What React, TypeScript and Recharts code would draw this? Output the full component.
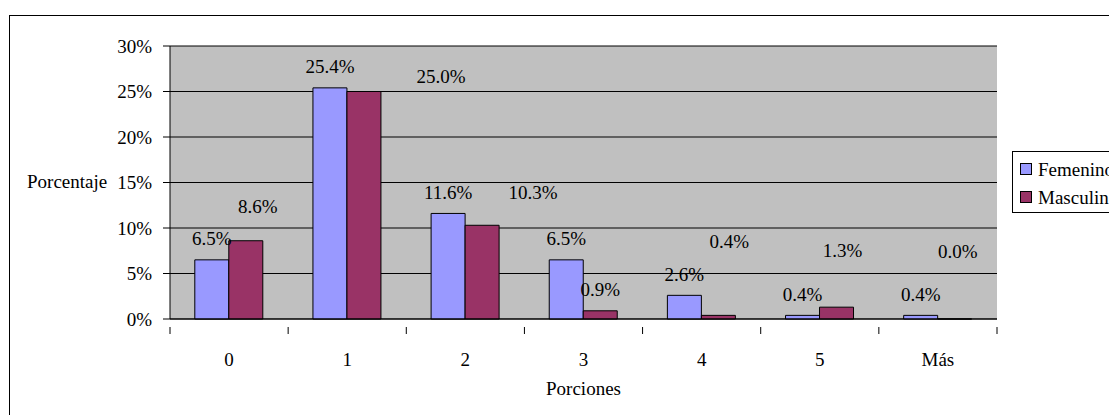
import React from 'react'
import {
  BarChart, Bar, XAxis, YAxis, CartesianGrid, LabelList
} from 'recharts'

const categories = ['0', '1', '2', '3', '4', '5', 'Más']
const femenino = [6.5, 25.4, 11.6, 6.5, 2.6, 0.4, 0.4]
const masculino = [8.6, 25.0, 10.3, 0.9, 0.4, 1.3, 0.0]
const yTicks = [0, 5, 10, 15, 20, 25, 30]
const seriesNames = ['Femenino', 'Masculino']
const seriesColors = ['#9999ff', '#993366']

// label nudges for the Masculino labels (they were dragged around in the original)
const maleLabelNudge = [
  { dx: 12, dy: -13 }, { dx: 77, dy: 6 }, { dx: 51, dy: -12 }, { dx: 0, dy: 0 },
  { dx: 11, dy: -53 }, { dx: 6, dy: -36 }, { dx: 3, dy: -46 },
]

const FONT = '"Liberation Serif", "Times New Roman", serif'
const FS = 19
const BAND = 827 / 7

const data = categories.map((c, i) => ({ name: c, fem: femenino[i], masc: masculino[i] }))

const makeLabel = (nudge?: { dx: number; dy: number }[]) => (props: any) => {
  const { x, y, width, height, value, index } = props
  const n = nudge ? nudge[index] : { dx: 0, dy: 0 }
  const top = Math.min(Number(y), Number(y) + Number(height))
  const cx = Number(x) + Number(width) / 2 + n.dx
  const cy = top - 21 + n.dy
  return (
    <text x={cx} y={cy + 6.5} textAnchor="middle" fontFamily={FONT} fontSize={FS} fill="#000">
      {Number(value).toFixed(1)}%
    </text>
  )
}

const CatTick = (props: any) => {
  const { x, y, payload, index } = props
  const left = x - BAND / 2
  return (
    <g>
      <line x1={left} x2={left} y1={y} y2={y + 7} stroke="#000" />
      {index === categories.length - 1 && (
        <line x1={x + BAND / 2} x2={x + BAND / 2} y1={y} y2={y + 7} stroke="#000" />
      )}
      <text x={x} y={y + 39} textAnchor="middle" fontFamily={FONT} fontSize={FS} fill="#000">
        {payload.value}
      </text>
    </g>
  )
}

function LegendBox() {
  return (
    <div style={{
      position: 'absolute', left: 1004, top: 143,
      border: '1px solid #000', background: '#fff', width: 140, height: 62,
      boxSizing: 'border-box', paddingTop: 3, paddingLeft: 7, fontSize: FS,
    }}>
      {seriesNames.map((name, i) => (
        <div key={name} style={{ display: 'flex', alignItems: 'center', height: 28, lineHeight: 1, whiteSpace: 'nowrap' }}>
          <span style={{
            width: 10, height: 10, border: '1px solid #000', background: seriesColors[i],
            marginRight: 6, flexShrink: 0,
          }} />
          <span>{name}</span>
        </div>
      ))}
    </div>
  )
}

export default function App() {
  return (
    <div style={{ position: 'relative', width: 1109, height: 407, overflow: 'hidden', fontFamily: FONT }}>
      <div style={{
        position: 'absolute', left: 1, top: 7, width: 1200, height: 500,
        border: '1px solid #000', boxSizing: 'border-box',
      }} />
      <div style={{
        position: 'absolute', left: 19, top: 174 - 11, fontSize: FS, lineHeight: '22px', whiteSpace: 'nowrap',
      }}>Porcentaje</div>
      <div style={{
        position: 'absolute', left: 475.5, width: 200, textAlign: 'center', top: 381 - 11,
        fontSize: FS, lineHeight: '22px',
      }}>Porciones</div>
      <div style={{ position: 'absolute', left: 0, top: 0 }}>
        <BarChart
          width={1109} height={407} data={data}
          margin={{ top: 38, right: 120, bottom: 36, left: 102 }}
          barCategoryGap="21%" barGap={0}
        >
          <CartesianGrid vertical={false} stroke="#000" fill="#c0c0c0" fillOpacity={1} />
          <XAxis
            dataKey="name" height={60} tickLine={false} interval={0}
            axisLine={{ stroke: '#000' }} tick={<CatTick />}
          />
          <YAxis
            width={60} domain={[0, 30]} ticks={yTicks} interval={0}
            tickFormatter={(v: number) => `${v}%`}
            tick={{ fontFamily: FONT, fontSize: FS, fill: '#000' }}
            tickSize={7} tickMargin={11}
            axisLine={{ stroke: '#000' }} tickLine={{ stroke: '#000' }}
          />
          <Bar dataKey="fem" name={seriesNames[0]} fill={seriesColors[0]} stroke="#000" strokeWidth={1} isAnimationActive={false}>
            <LabelList dataKey="fem" content={makeLabel()} />
          </Bar>
          <Bar dataKey="masc" name={seriesNames[1]} fill={seriesColors[1]} stroke="#000" strokeWidth={1}
            minPointSize={0.01} isAnimationActive={false}>
            <LabelList dataKey="masc" content={makeLabel(maleLabelNudge)} />
          </Bar>
        </BarChart>
      </div>
      <LegendBox />
    </div>
  )
}
